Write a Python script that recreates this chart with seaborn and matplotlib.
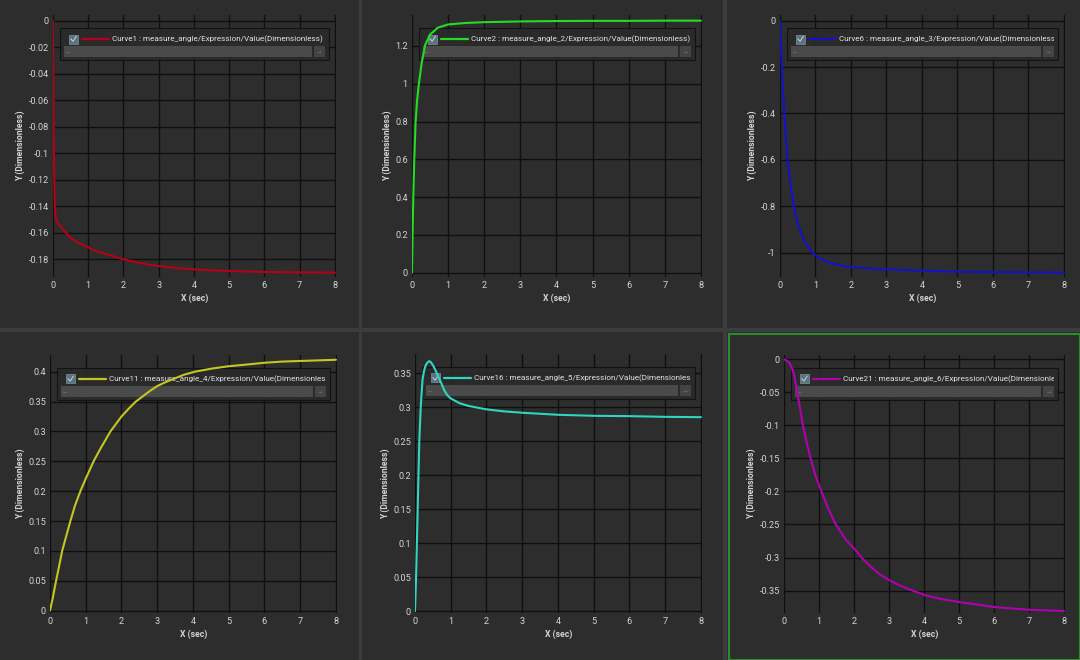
import numpy as np
import pandas as pd
import seaborn as sns
import matplotlib.pyplot as plt
from matplotlib.patches import Rectangle
from matplotlib.lines import Line2D
from matplotlib.ticker import MultipleLocator, FuncFormatter
from matplotlib.transforms import Bbox, TransformedBbox

# curve values (x in sec, y dimensionless)
t1 = [0, 0.01, 0.03, 0.05, 0.08, 0.15, 0.3, 0.5, 0.75, 1.0, 1.25, 1.5, 1.75, 2.0, 2.5, 3.0, 3.5, 4.0, 4.5,
      5.0, 6.0, 7.0, 8.0]
y1 = [0, -0.04, -0.11, -0.14, -0.15, -0.153, -0.158, -0.164, -0.168, -0.171, -0.174, -0.176, -0.178,
      -0.180, -0.183, -0.185, -0.1865, -0.1875, -0.1882, -0.1888, -0.1895, -0.1898, -0.19]

t2 = [0, 0.01, 0.02, 0.036, 0.063, 0.10, 0.14, 0.19, 0.27, 0.36, 0.5, 0.72, 1.0, 1.5, 2.0, 3.0, 4.0, 5.0,
      6.0, 7.0, 8.0]
y2 = [0, 0.12, 0.244, 0.40, 0.60, 0.80, 0.91, 1.0, 1.111, 1.203, 1.261, 1.297, 1.314, 1.322, 1.326, 1.330,
      1.332, 1.333, 1.333, 1.334, 1.334]

t3 = [0, 0.05, 0.12, 0.21, 0.3, 0.39, 0.47, 0.56, 0.67, 0.79, 0.9, 1.03, 1.25, 1.5, 1.75, 2.0, 2.5, 3.0,
      4.0, 5.0, 6.0, 7.0, 8.0]
y3 = [0, -0.2, -0.4, -0.6, -0.71, -0.8, -0.86, -0.9, -0.945, -0.975, -0.998, -1.016, -1.035, -1.047,
      -1.056, -1.062, -1.068, -1.072, -1.078, -1.082, -1.084, -1.085, -1.086]

t4 = [0, 0.08, 0.16, 0.25, 0.34, 0.45, 0.57, 0.7, 0.85, 1.0, 1.22, 1.4, 1.69, 2.0, 2.2, 2.4, 2.6, 2.8,
      3.0, 3.25, 3.5, 3.75, 4.05, 4.5, 4.97, 5.5, 6.0, 6.5, 7.0, 7.5, 8.0]
y4 = [0, 0.022, 0.047, 0.073, 0.10, 0.124, 0.15, 0.176, 0.20, 0.221, 0.25, 0.27, 0.30, 0.325, 0.338,
      0.35, 0.359, 0.368, 0.376, 0.383, 0.389, 0.395, 0.400, 0.405, 0.409, 0.412, 0.415, 0.417, 0.418,
      0.419, 0.42]

t5 = [0, 0.03, 0.075, 0.12, 0.16, 0.21, 0.25, 0.3, 0.35, 0.4, 0.45, 0.5, 0.55, 0.61, 0.7, 0.82, 0.9, 1.0,
      1.25, 1.5, 2.0, 2.5, 3.0, 4.0, 5.0, 6.0, 7.0, 8.0]
y5 = [0, 0.05, 0.15, 0.25, 0.3, 0.34, 0.353, 0.362, 0.366, 0.368, 0.366, 0.362, 0.357, 0.35, 0.34, 0.325,
      0.318, 0.313, 0.306, 0.302, 0.297, 0.294, 0.292, 0.289, 0.2875, 0.287, 0.286, 0.2855]

t6 = [0, 0.05, 0.1, 0.15, 0.19, 0.24, 0.29, 0.33, 0.38, 0.46, 0.54, 0.65, 0.76, 0.9, 1.07, 1.25, 1.47,
      1.75, 2.03, 2.25, 2.5, 2.75, 3.03, 3.3, 3.57, 4.03, 4.5, 5.09, 5.5, 6.0, 6.5, 7.0, 7.5, 8.0]
y6 = [0, -0.001, -0.003, -0.005, -0.009, -0.015, -0.024, -0.036, -0.05, -0.075, -0.10, -0.126, -0.15,
      -0.176, -0.20, -0.224, -0.249, -0.272, -0.288, -0.302, -0.315, -0.326, -0.335, -0.342, -0.348,
      -0.357, -0.363, -0.368, -0.371, -0.375, -0.377, -0.379, -0.380, -0.381]

labels = [
    "Curve1 : measure_angle/Expression/Value(Dimensionless)",
    "Curve2 : measure_angle_2/Expression/Value(Dimensionless)",
    "Curve6 : measure_angle_3/Expression/Value(Dimensionless)",
    "Curve11 : measure_angle_4/Expression/Value(Dimensionless)",
    "Curve16 : measure_angle_5/Expression/Value(Dimensionless)",
    "Curve21 : measure_angle_6/Expression/Value(Dimensionless)",
]
colors = ["#b80018", "#22dd22", "#1212cc", "#c4c622", "#30d6c0", "#b000b0"]

W, H = 1080, 660
BG_SEP = "#3a3c3f"
BG_PANEL = "#2d2d2d"
TXT = "#d4d4d4"

sns.set_theme(style="dark")
plt.rcParams['font.family'] = ['Roboto', 'DejaVu Sans']

# panel frames (px) and axes boxes (left, top, right, bottom px)
frames = [(0, 0, 359, 328), (362, 0, 723, 328), (727, 0, 1080, 328),
          (0, 332, 359, 660), (362, 332, 723, 660), (727, 332, 1080, 660)]
boxes = [(53, 15, 336, 277), (412, 15, 702, 277), (780, 15, 1065, 277),
         (50, 355, 337, 613), (415, 354, 702, 613), (784, 355, 1065, 613)]
ylims = [(-0.1933, 0.0043), (-0.023, 1.364), (-1.105, 0.0245),
         (-0.004, 0.428), (-0.0025, 0.3784), (-0.384, 0.0066)]
ysteps = [0.02, 0.2, 0.2, 0.05, 0.05, 0.05]
series = [(t1, y1), (t2, y2), (t3, y3), (t4, y4), (t5, y5), (t6, y6)]


def fig_rect(l, t, r, b):
    return [l / W, 1 - b / H, (r - l) / W, (b - t) / H]


def draw_legend(ax, label, color, aw, ah):
    fx = lambda p: p / aw
    fy = lambda p: p / ah
    x0, x1, top = 0.024, 0.975, 0.95
    bh = fy(32)
    ax.add_patch(Rectangle((x0, top - bh), x1 - x0, bh, transform=ax.transAxes,
                           facecolor="#2a2a2a", edgecolor="#111111", lw=0.8, alpha=0.92, zorder=3))
    row = top - fy(11)
    ax.add_patch(Rectangle((x0 + fx(9), row - fy(4.5)), fx(9), fy(9), transform=ax.transAxes,
                           facecolor="#5a7380", edgecolor="#7d939e", lw=0.5, zorder=4))
    ax.add_line(Line2D([x0 + fx(11), x0 + fx(13.2), x0 + fx(16.5)],
                       [row + fy(0.3), row - fy(2.2), row + fy(2.8)],
                       transform=ax.transAxes, color="#c9d3d8", lw=0.7, zorder=4.5))
    ax.add_line(Line2D([x0 + fx(22), x0 + fx(49)], [row, row], transform=ax.transAxes,
                       color=color, lw=1.6, zorder=4))
    txt = ax.text(x0 + fx(52), row, label, transform=ax.transAxes, fontsize=5.85,
                  color="#e2e2e2", ha="left", va="center", zorder=4)
    # the label is cut off at the right edge of the legend box
    txt.set_clip_path(None)
    txt.set_clip_box(TransformedBbox(Bbox([[x0, top - bh], [x1 - fx(4), top]]), ax.transAxes))
    txt.set_clip_on(True)
    sb_y, sb_h = top - fy(29), fy(11)
    ax.add_patch(Rectangle((x0 + fx(4), sb_y), x1 - x0 - fx(21), sb_h, transform=ax.transAxes,
                           facecolor="#4a4a4a", edgecolor="none", zorder=4))
    ax.add_patch(Rectangle((x1 - fx(15), sb_y), fx(11), sb_h, transform=ax.transAxes,
                           facecolor="#444444", edgecolor="none", zorder=4))
    ax.text(x0 + fx(8), sb_y + sb_h / 2, "←", transform=ax.transAxes, fontsize=4,
            color="#6c6c6c", ha="center", va="center", zorder=4.5)
    ax.text(x1 - fx(9.5), sb_y + sb_h / 2, "→", transform=ax.transAxes, fontsize=4,
            color="#6c6c6c", ha="center", va="center", zorder=4.5)


fig = plt.figure(figsize=(10.8, 6.6), dpi=100)
fig.patch.set_facecolor(BG_SEP)

for (l, t, r, b) in frames:
    fig.add_artist(Rectangle((l / W, 1 - b / H), (r - l) / W, (b - t) / H, transform=fig.transFigure,
                             facecolor=BG_PANEL, edgecolor="none", zorder=-10))
# selected panel has a green frame
l, t, r, b = frames[5]
fig.add_artist(Rectangle(((l + 1.5) / W, 1 - b / H), (r - l - 1.5) / W, (b - t - 1.5) / H,
                         transform=fig.transFigure, facecolor="none", edgecolor="#2a8c2a",
                         lw=1.5, zorder=-9))

fmt = FuncFormatter(lambda v, p: f"{round(v, 4) + 0:g}")

for i in range(6):
    box = boxes[i]
    ax = fig.add_axes(fig_rect(*box))
    ax.set_facecolor("none")
    tt, yy = series[i]
    df = pd.DataFrame({"t": tt, "y": yy})
    sns.lineplot(data=df, x="t", y="y", color=colors[i], linewidth=1.5, estimator=None,
                 ax=ax, zorder=6)
    ax.set_xlim(0, 8.03)
    ax.set_ylim(*ylims[i])
    ax.xaxis.set_major_locator(MultipleLocator(1))
    ax.yaxis.set_major_locator(MultipleLocator(ysteps[i]))
    ax.xaxis.set_major_formatter(fmt)
    ax.yaxis.set_major_formatter(fmt)
    ax.grid(True, color="#0f0f0f", linewidth=1.0)
    for s in ax.spines.values():
        s.set_visible(False)
    ax.tick_params(length=0, labelsize=6.6, colors=TXT, pad=3)
    ax.set_xlabel("X (sec)", fontsize=6.2, fontweight="bold", color=TXT, labelpad=2.5)
    ax.set_ylabel("Y (Dimensionless)", fontsize=6.2, fontweight="bold", color=TXT, labelpad=2.5)
    draw_legend(ax, labels[i], colors[i], box[2] - box[0], box[3] - box[1])

fig.savefig("out.png", dpi=100, facecolor=fig.get_facecolor())
